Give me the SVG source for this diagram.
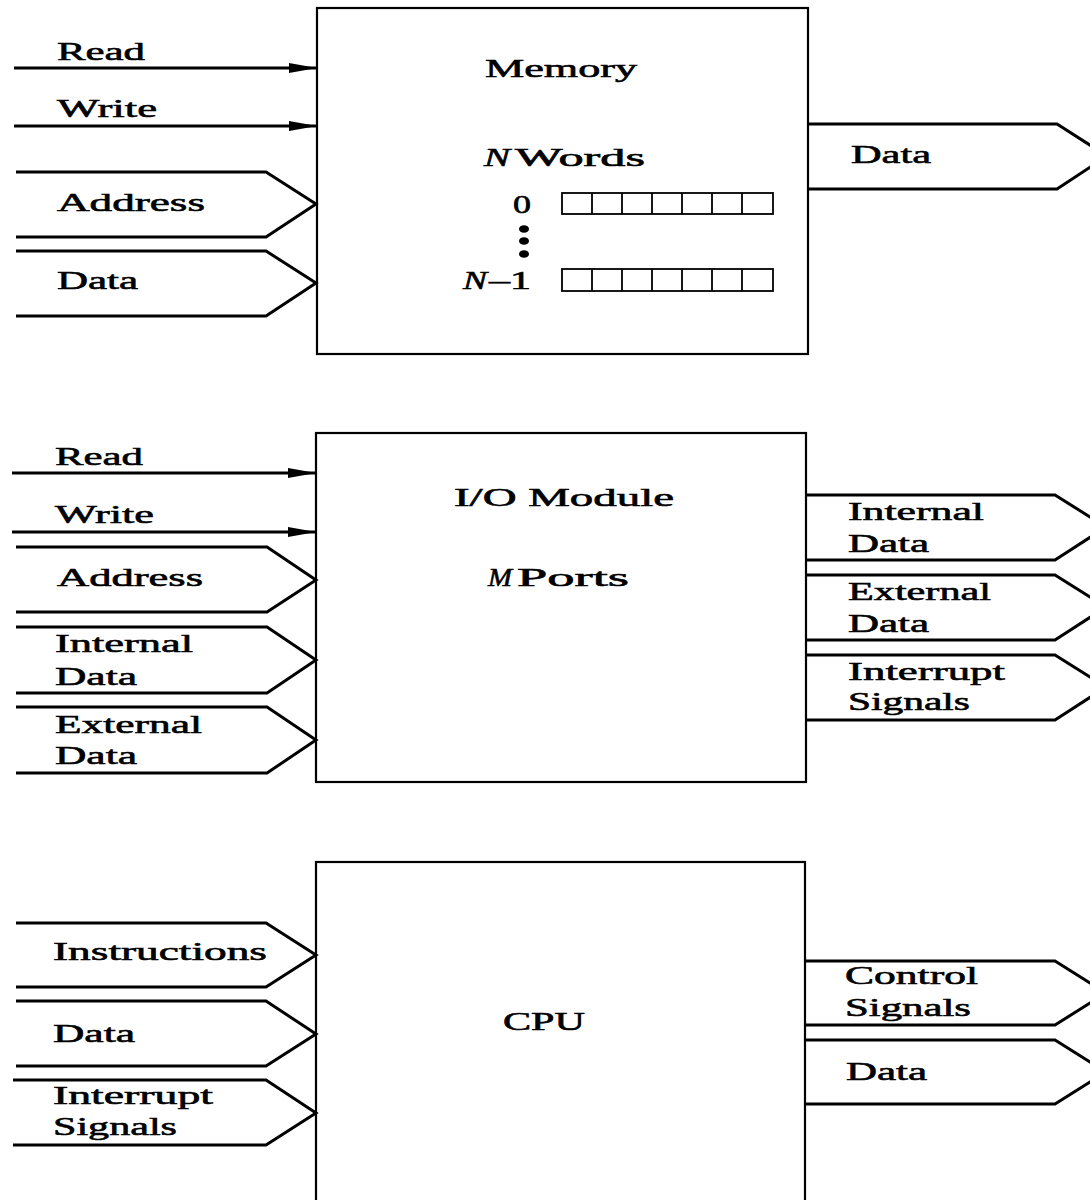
<svg xmlns="http://www.w3.org/2000/svg" width="1090" height="1200" viewBox="0 0 1090 1200">
<defs>
<style>
.box{fill:#fff;stroke:#000;stroke-width:2.2}
.bus{fill:none;stroke:#000;stroke-width:3;stroke-linejoin:miter}
.sig{fill:none;stroke:#000;stroke-width:3}
.cell{fill:none;stroke:#000;stroke-width:1.8}
text{font-family:"Liberation Serif","Times New Roman",serif;font-size:26px;fill:#000;stroke:#000;stroke-width:0.6}
.it{font-style:italic}
</style>
<marker id="ah" markerUnits="userSpaceOnUse" markerWidth="30" markerHeight="12" refX="28" refY="5" orient="auto">
<path d="M0,0 L28,5 L0,10 Z" fill="#000"/>
</marker>
</defs>
<rect width="1090" height="1200" fill="#fff"/>

<g id="memory">
<rect class="box" x="317" y="8" width="491" height="346"/>
<text x="485" y="77" textLength="152" lengthAdjust="spacingAndGlyphs">Memory</text>
<text class="it" x="484" y="166" textLength="26" lengthAdjust="spacingAndGlyphs">N</text>
<text x="515" y="166" textLength="130" lengthAdjust="spacingAndGlyphs">Words</text>
<text x="513" y="213" textLength="18" lengthAdjust="spacingAndGlyphs">0</text>
<text class="it" x="463" y="289" textLength="24" lengthAdjust="spacingAndGlyphs">N</text>
<text x="489" y="289" textLength="42" lengthAdjust="spacingAndGlyphs">–1</text>
<ellipse cx="524" cy="229" rx="5" ry="3.8"/>
<ellipse cx="524" cy="241" rx="5" ry="3.8"/>
<ellipse cx="524" cy="254" rx="5" ry="3.8"/>
<g id="word0">
<rect class="cell" x="562" y="193" width="211" height="21"/>
<path class="cell" d="M592,193V214M622,193V214M652,193V214M682,193V214M712,193V214M742,193V214"/>
</g>
<g id="wordN1">
<rect class="cell" x="562" y="269" width="211" height="22"/>
<path class="cell" d="M592,269V291M622,269V291M652,269V291M682,269V291M712,269V291M742,269V291"/>
</g>
</g>

<g id="io-module">
<rect class="box" x="316" y="433" width="490" height="349"/>
<text x="454" y="506" textLength="220" lengthAdjust="spacingAndGlyphs">I/O Module</text>
<text class="it" x="488" y="586" textLength="24" lengthAdjust="spacingAndGlyphs">M</text>
<text x="517" y="586" textLength="112" lengthAdjust="spacingAndGlyphs">Ports</text>
</g>

<g id="cpu">
<rect class="box" x="316" y="862" width="489" height="360"/>
<text x="503" y="1030" textLength="82" lengthAdjust="spacingAndGlyphs">CPU</text>
</g>

<g id="connectors">
<line class="sig" x1="14" y1="68" x2="317" y2="68" marker-end="url(#ah)"/>
<line class="sig" x1="14" y1="126" x2="317" y2="126" marker-end="url(#ah)"/>
<path class="bus" d="M16,172H266L316,204L266,237H16"/>
<path class="bus" d="M16,251H266L316,283L266,316H16"/>
<path class="bus" d="M808,124H1057L1107,156L1057,189H808"/>
<line class="sig" x1="12" y1="473" x2="316" y2="473" marker-end="url(#ah)"/>
<line class="sig" x1="12" y1="532" x2="316" y2="532" marker-end="url(#ah)"/>
<path class="bus" d="M16,547H267L316,580L267,612H16"/>
<path class="bus" d="M16,627H267L316,660L267,693H16"/>
<path class="bus" d="M16,707H267L316,740L267,773H16"/>
<path class="bus" d="M806,495H1055L1106,527L1055,560H806"/>
<path class="bus" d="M806,575H1055L1106,607L1055,640H806"/>
<path class="bus" d="M806,655H1055L1106,687L1055,720H806"/>
<path class="bus" d="M16,923H266L316,955L266,987H16"/>
<path class="bus" d="M16,1001H266L316,1034L266,1066H16"/>
<path class="bus" d="M13,1080H266L316,1113L266,1145H13"/>
<path class="bus" d="M805,961H1055L1106,993L1055,1025H805"/>
<path class="bus" d="M805,1040H1055L1106,1072L1055,1104H805"/>
</g>

<g id="labels">
<text x="57" y="60" textLength="88" lengthAdjust="spacingAndGlyphs">Read</text>
<text x="57" y="117" textLength="100" lengthAdjust="spacingAndGlyphs">Write</text>
<text x="57" y="211" textLength="148" lengthAdjust="spacingAndGlyphs">Address</text>
<text x="57" y="289" textLength="81" lengthAdjust="spacingAndGlyphs">Data</text>
<text x="851" y="163" textLength="80" lengthAdjust="spacingAndGlyphs">Data</text>

<text x="55" y="465" textLength="88" lengthAdjust="spacingAndGlyphs">Read</text>
<text x="55" y="523" textLength="99" lengthAdjust="spacingAndGlyphs">Write</text>
<text x="57" y="586" textLength="146" lengthAdjust="spacingAndGlyphs">Address</text>
<text x="55" y="652" textLength="138" lengthAdjust="spacingAndGlyphs">Internal</text>
<text x="55" y="685" textLength="82" lengthAdjust="spacingAndGlyphs">Data</text>
<text x="55" y="733" textLength="147" lengthAdjust="spacingAndGlyphs">External</text>
<text x="55" y="764" textLength="82" lengthAdjust="spacingAndGlyphs">Data</text>
<text x="848" y="520" textLength="136" lengthAdjust="spacingAndGlyphs">Internal</text>
<text x="848" y="552" textLength="81" lengthAdjust="spacingAndGlyphs">Data</text>
<text x="848" y="600" textLength="143" lengthAdjust="spacingAndGlyphs">External</text>
<text x="848" y="632" textLength="81" lengthAdjust="spacingAndGlyphs">Data</text>
<text x="848" y="680" textLength="157" lengthAdjust="spacingAndGlyphs">Interrupt</text>
<text x="848" y="710" textLength="122" lengthAdjust="spacingAndGlyphs">Signals</text>

<text x="53" y="960" textLength="214" lengthAdjust="spacingAndGlyphs">Instructions</text>
<text x="53" y="1042" textLength="82" lengthAdjust="spacingAndGlyphs">Data</text>
<text x="53" y="1104" textLength="160" lengthAdjust="spacingAndGlyphs">Interrupt</text>
<text x="53" y="1135" textLength="124" lengthAdjust="spacingAndGlyphs">Signals</text>
<text x="845" y="984" textLength="133" lengthAdjust="spacingAndGlyphs">Control</text>
<text x="845" y="1016" textLength="126" lengthAdjust="spacingAndGlyphs">Signals</text>
<text x="846" y="1080" textLength="81" lengthAdjust="spacingAndGlyphs">Data</text>
</g>
</svg>
